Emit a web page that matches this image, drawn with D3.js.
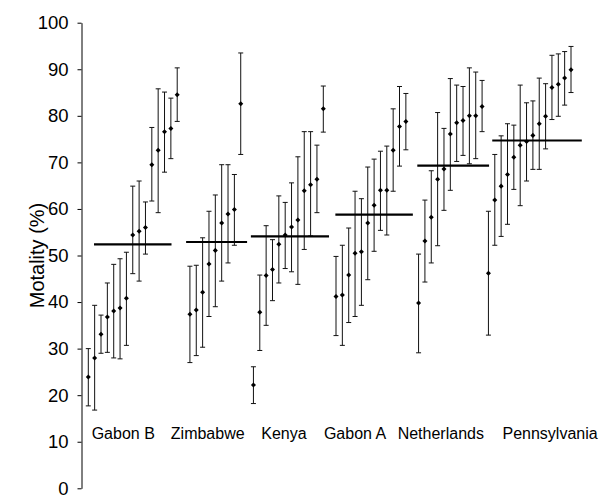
<!DOCTYPE html>
<html>
<head>
<meta charset="utf-8">
<script src="https://cdn.jsdelivr.net/npm/d3@7"></script>
<style>
  body { margin: 0; background: #fff; }
  svg { display: block; font-family: "Liberation Sans", Arial, sans-serif; }
</style>
</head>
<body>
<svg id="chart"></svg>
<script>
// countries, left to right
var countries = ["Gabon B", "Zimbabwe", "Kenya", "Gabon A", "Netherlands", "Pennsylvania"];

// index of the first point of each country on the x axis (one empty slot between most groups)
var startIndex = [0, 16, 26, 39, 52, 63];

// mortality (%) per site, sorted within each country
var gabonB = [23.9, 28.0, 33.1, 36.8, 38.1, 38.7, 40.8, 54.4, 55.2, 56.0, 69.5, 72.6, 76.6, 77.3, 84.5];
var gabonBLow = [17.7, 16.8, 29.0, 29.2, 28.0, 27.8, 30.7, 46.1, 44.5, 50.3, 61.7, 59.2, 67.9, 70.8, 78.8];
var gabonBHigh = [30.0, 39.3, 37.2, 44.1, 48.1, 49.3, 50.7, 64.9, 66.0, 61.5, 77.5, 85.8, 85.1, 83.8, 90.3];

var zimbabwe = [37.4, 38.3, 42.1, 48.2, 51.1, 57.0, 58.9, 59.9, 82.6];
var zimbabweLow = [27.0, 28.5, 30.3, 36.9, 39.0, 44.5, 48.4, 52.2, 71.7];
var zimbabweHigh = [47.7, 47.9, 53.8, 59.5, 63.0, 69.5, 69.5, 67.4, 93.5];

var kenya = [22.2, 37.8, 45.7, 47.0, 52.4, 54.4, 56.1, 57.6, 63.9, 65.2, 66.4, 81.5];
var kenyaLow = [18.2, 29.6, 35.0, 40.3, 44.1, 47.2, 46.5, 43.8, 51.3, 54.2, 59.2, 76.5];
var kenyaHigh = [26.1, 45.8, 56.4, 53.4, 62.8, 61.4, 65.6, 71.2, 76.6, 76.6, 73.7, 86.4];

var gabonA = [41.2, 41.5, 45.8, 50.5, 50.8, 57.0, 60.8, 64.0, 64.0, 72.6, 77.7, 78.8];
var gabonALow = [32.8, 30.7, 35.6, 36.9, 39.3, 44.8, 50.9, 55.4, 54.4, 63.8, 69.2, 72.7];
var gabonAHigh = [49.8, 52.2, 55.9, 63.8, 62.2, 69.0, 70.7, 72.4, 73.5, 81.5, 86.3, 84.8];

var netherlands = [39.8, 53.1, 58.2, 66.4, 68.6, 76.1, 78.5, 79.0, 80.0, 80.0, 82.0];
var netherlandsLow = [29.1, 44.3, 48.4, 52.1, 59.7, 64.0, 70.2, 71.5, 69.7, 70.8, 76.6];
var netherlandsHigh = [50.3, 61.9, 68.2, 80.7, 77.3, 88.0, 86.6, 86.3, 90.3, 89.4, 87.6];

var pennsylvania = [46.2, 61.9, 64.9, 67.4, 71.1, 73.7, 74.5, 75.8, 78.3, 79.9, 86.1, 86.8, 88.1, 89.9];
var pennsylvaniaLow = [32.9, 52.2, 54.1, 56.7, 64.2, 60.7, 66.0, 68.5, 68.5, 72.9, 79.2, 79.9, 82.3, 85.0];
var pennsylvaniaHigh = [59.5, 71.7, 75.7, 78.3, 78.0, 86.6, 82.8, 83.2, 88.1, 86.9, 93.0, 93.3, 93.8, 94.9];

// overall mortality per country (horizontal bar) and its extent in x-index units
var overall = [52.4, 52.9, 54.1, 58.8, 69.3, 74.7];
var overallFrom = [0.9, 15.4, 25.6, 38.9, 51.8, 63.6];
var overallTo = [13.1, 25.0, 37.9, 51.1, 63.1, 77.7];

// where each country name sits, in x-index units
var labelIndex = [5.5, 18.8, 30.8, 42.0, 55.5, 72.7];

var yTicks = [0, 10, 20, 30, 40, 50, 60, 70, 80, 90, 100];

var values = [gabonB, zimbabwe, kenya, gabonA, netherlands, pennsylvania];
var lows = [gabonBLow, zimbabweLow, kenyaLow, gabonALow, netherlandsLow, pennsylvaniaLow];
var highs = [gabonBHigh, zimbabweHigh, kenyaHigh, gabonAHigh, netherlandsHigh, pennsylvaniaHigh];

var points = [];
values.forEach(function(arr, g) {
    arr.forEach(function(v, i) {
        points.push({ idx: startIndex[g] + i, value: v, low: lows[g][i], high: highs[g][i] });
    });
});

var svgWidth = 611, svgHeight = 497;

var svg = d3.select("#chart")
    .attr("width", svgWidth)
    .attr("height", svgHeight);

var x = d3.scaleLinear()
    .domain([0, 76])
    .range([88.3, 571]);

var y = d3.scaleLinear()
    .domain([0, 100])
    .range([488.3, 22.7]);

// y axis
var yAxis = svg.append("g")
    .attr("transform", "translate(81.5,0)")
    .call(d3.axisLeft(y).tickValues(yTicks).tickSize(4).tickPadding(9).tickSizeOuter(0));

yAxis.select(".domain").attr("stroke", "#000");
yAxis.selectAll(".tick line").attr("stroke", "#000");
yAxis.selectAll(".tick text")
    .attr("fill", "#000")
    .style("font-size", "18.5px")
    .style("font-family", "'Liberation Sans', Arial, sans-serif");

svg.append("text")
    .attr("transform", "translate(44," + y(50) + ") rotate(-90)")
    .attr("text-anchor", "middle")
    .style("font-size", "20px")
    .text("Motality (%)");

// error bars
var capW = 2.5;
var bars = svg.append("g")
    .attr("stroke", "#111")
    .attr("stroke-width", 1)
    .attr("fill", "none");

bars.selectAll("line.whisker")
    .data(points)
    .enter()
    .append("line")
    .attr("class", "whisker")
    .attr("x1", function(d) { return x(d.idx); })
    .attr("x2", function(d) { return x(d.idx); })
    .attr("y1", function(d) { return y(d.low); })
    .attr("y2", function(d) { return y(d.high); });

bars.selectAll("line.capHigh")
    .data(points)
    .enter()
    .append("line")
    .attr("class", "capHigh")
    .attr("x1", function(d) { return x(d.idx) - capW; })
    .attr("x2", function(d) { return x(d.idx) + capW; })
    .attr("y1", function(d) { return y(d.high); })
    .attr("y2", function(d) { return y(d.high); });

bars.selectAll("line.capLow")
    .data(points)
    .enter()
    .append("line")
    .attr("class", "capLow")
    .attr("x1", function(d) { return x(d.idx) - capW; })
    .attr("x2", function(d) { return x(d.idx) + capW; })
    .attr("y1", function(d) { return y(d.low); })
    .attr("y2", function(d) { return y(d.low); });

// overall country lines
svg.selectAll("line.overall")
    .data(overall)
    .enter()
    .append("line")
    .attr("class", "overall")
    .attr("x1", function(d, i) { return x(overallFrom[i]); })
    .attr("x2", function(d, i) { return x(overallTo[i]); })
    .attr("y1", function(d) { return y(d); })
    .attr("y2", function(d) { return y(d); })
    .attr("stroke", "#000")
    .attr("stroke-width", 2.2);

// site estimates
svg.selectAll("path.pt")
    .data(points)
    .enter()
    .append("path")
    .attr("class", "pt")
    .attr("d", d3.symbol().type(d3.symbolDiamond2).size(16))
    .attr("transform", function(d) {
        return "translate(" + x(d.idx) + "," + y(d.value) + ")";
    })
    .attr("fill", "#000");

// country names
svg.selectAll("text.country")
    .data(countries)
    .enter()
    .append("text")
    .attr("class", "country")
    .attr("x", function(d, i) { return x(labelIndex[i]); })
    .attr("y", 439)
    .attr("text-anchor", "middle")
    .style("font-size", "16px")
    .text(function(d) { return d; });
</script>
</body>
</html>
